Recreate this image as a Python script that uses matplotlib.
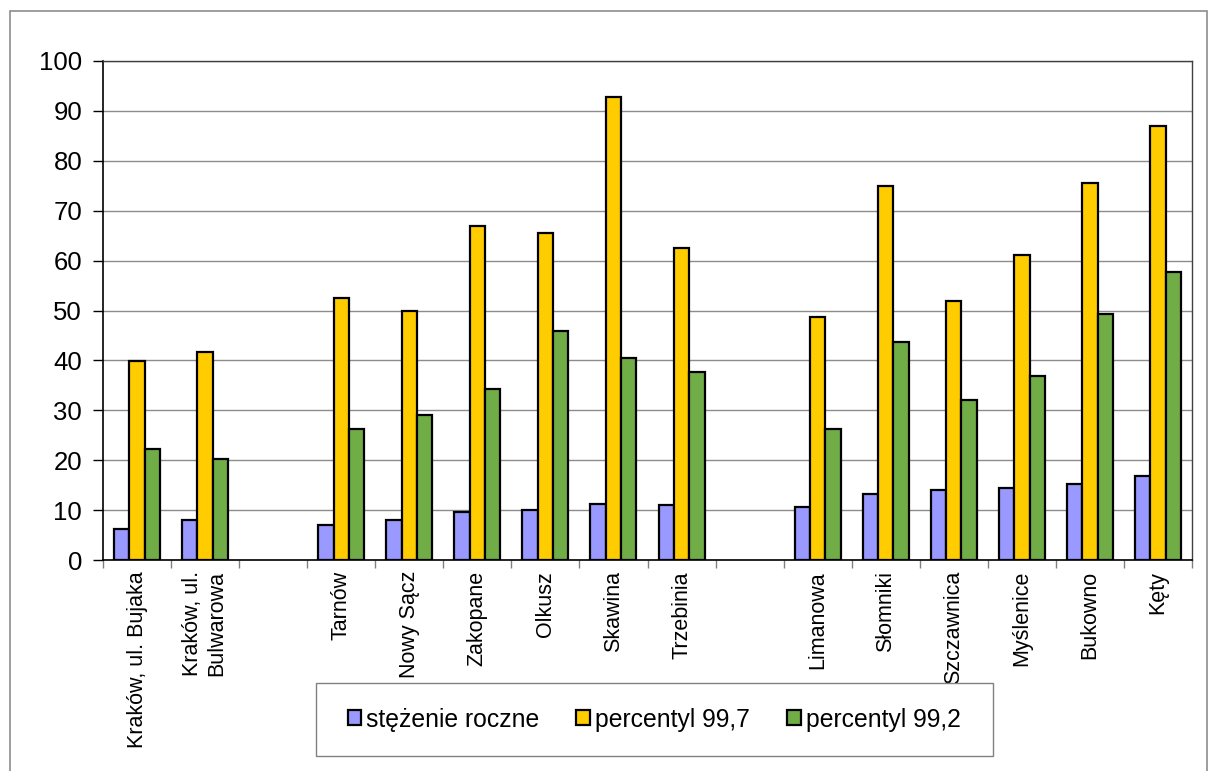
import numpy as np
import matplotlib
matplotlib.use("Agg")
import matplotlib.pyplot as plt
from matplotlib.patches import Rectangle

plt.rcParams['font.family'] = ['Liberation Sans', 'DejaVu Sans']

# stations (empty entries separate the groups on the axis)
stations = ["Kraków, ul. Bujaka", "Kraków, ul.\nBulwarowa", "",
            "Tarnów", "Nowy Sącz", "Zakopane", "Olkusz", "Skawina", "Trzebinia", "",
            "Limanowa", "Słomniki", "Szczawnica", "Myślenice", "Bukowno", "Kęty"]

stezenie_roczne = [6.3, 8.1, None,
                   7.0, 8.1, 9.6, 10.0, 11.2, 11.0, None,
                   10.7, 13.3, 14.0, 14.4, 15.3, 16.8]
percentyl_997 = [39.8, 41.6, None,
                 52.5, 49.9, 67.0, 65.5, 92.7, 62.6, None,
                 48.7, 74.9, 51.9, 61.2, 75.6, 87.0]
percentyl_992 = [22.2, 20.3, None,
                 26.3, 29.0, 34.2, 45.8, 40.5, 37.7, None,
                 26.3, 43.6, 32.0, 36.8, 49.3, 57.8]

series = [("stężenie roczne", stezenie_roczne, "#9999FF"),
          ("percentyl 99,7", percentyl_997, "#FFCC00"),
          ("percentyl 99,2", percentyl_992, "#70AD47")]

fig = plt.figure(figsize=(12.08, 7.71), dpi=100)
ax = fig.add_axes([103/1208, 1 - 560/771, (1192 - 103)/1208, (560 - 61)/771])

x = np.arange(len(stations))
w = 0.225
handles = []
for i, (name, vals, col) in enumerate(series):
    h = np.array([np.nan if v is None else v for v in vals], dtype=float)
    b = ax.bar(x + (i - 1) * w, h, width=w, color=col, edgecolor="black",
               linewidth=1.6, label=name, zorder=3)
    handles.append(b)

ax.set_xlim(-0.5, len(stations) - 0.5)
ax.set_ylim(0, 100)
ax.set_yticks(np.arange(0, 101, 10))
ax.yaxis.grid(True, color="#8c8c8c", linewidth=1)
ax.set_axisbelow(True)

ax.set_xticks(x)
ax.set_xticklabels(stations, rotation=90, fontsize=15.5, va="top", ha="center",
                   multialignment="center")
ax.set_xticks(np.arange(-0.5, len(stations)), minor=True)
ax.tick_params(axis="x", which="major", length=0, pad=8)
ax.tick_params(axis="x", which="minor", length=6, color="#808080", width=1)
ax.tick_params(axis="y", labelsize=18.5, length=7, width=1, pad=8)

for s in ("left", "bottom"):
    ax.spines[s].set_color("black")
    ax.spines[s].set_linewidth(1.2)
for s in ("top", "right"):
    ax.spines[s].set_color("#404040")
    ax.spines[s].set_linewidth(1)

# legend box at the bottom, drawn above the axis labels
box = Rectangle((316/1208, 1 - 756/771), (993 - 316)/1208, (756 - 683)/771,
                transform=fig.transFigure, facecolor="white", edgecolor="#808080",
                linewidth=1, zorder=5)
fig.patches.append(box)
leg = fig.legend(handles=handles, loc="center", ncol=3,
                 bbox_to_anchor=(654/1208, 1 - 719.5/771), frameon=False,
                 fontsize=17.8, handlelength=0.55, handleheight=0.55,
                 handletextpad=0.2, columnspacing=1.5)
leg.set_zorder(6)

# outer chart frame
frame = Rectangle((10/1208, -0.05), (1207 - 10)/1208, 1.05 - 11/771,
                  transform=fig.transFigure, facecolor="none", edgecolor="#8c8c8c",
                  linewidth=1.2, zorder=7, clip_on=False)
fig.patches.append(frame)

fig.savefig("out.png", dpi=100)
